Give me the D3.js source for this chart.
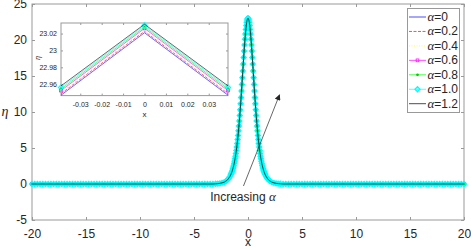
<!DOCTYPE html>
<html>
<head>
<meta charset="utf-8">
<script src="https://cdn.jsdelivr.net/npm/d3@7"></script>
<style>
body{margin:0;background:#fff;}
text{font-family:"Liberation Sans",Arial,sans-serif;fill:#262626;}
</style>
</head>
<body>
<svg id="vis"></svg>
<script>
//Series labels and styles (alpha values)
var alphaLabels = ["0","0.2","0.4","0.6","0.8","1.0","1.2"];
var lineColors = ["#0000ff","#ff0000","#ffff00","#ff00ff","#00ff00","#00ffff","#000000"];
var lineDash = [null,"3,1.5","1,1.5",null,null,null,null];
var markerTypes = ["none","none","none","square","dot","diamond","none"];

//Main profile (all series overlap at this scale)
var coreX = [-3,-2.8,-2.6,-2.4,-2.2,-2,-1.9,-1.8,-1.7,
    -1.6,-1.56,-1.52,-1.48,-1.44,-1.4,-1.36,-1.32,-1.28,-1.24,
    -1.2,-1.16,-1.12,-1.08,-1.04,-1,-0.96,-0.92,-0.88,-0.84,
    -0.8,-0.76,-0.72,-0.68,-0.64,-0.6,-0.56,-0.52,-0.48,-0.44,
    -0.4,-0.36,-0.32,-0.28,-0.24,-0.2,-0.16,-0.12,-0.08,-0.04,
    0,
    0.04,0.08,0.12,0.16,0.2,0.24,0.28,0.32,0.36,0.4,
    0.44,0.48,0.52,0.56,0.6,0.64,0.68,0.72,0.76,0.8,
    0.84,0.88,0.92,0.96,1,1.04,1.08,1.12,1.16,1.2,
    1.24,1.28,1.32,1.36,1.4,1.44,1.48,1.52,1.56,1.6,
    1.7,1.8,1.9,2,2.2,2.4,2.6,2.8,3];
var coreEta = [0.03,0.05,0.09,0.16,0.26,0.45,0.58,0.76,0.98,
    1.27,1.41,1.56,1.73,1.92,2.12,2.35,2.59,2.87,3.17,
    3.49,3.85,4.24,4.67,5.13,5.63,6.17,6.75,7.38,8.05,
    8.76,9.51,10.31,11.14,12.01,12.91,13.83,14.77,15.71,16.65,
    17.57,18.46,19.32,20.11,20.83,21.47,22.02,22.45,22.77,22.97,
    23.03,
    22.97,22.77,22.45,22.02,21.47,20.83,20.11,19.32,18.46,17.57,
    16.65,15.71,14.77,13.83,12.91,12.01,11.14,10.31,9.51,8.76,
    8.05,7.38,6.75,6.17,5.63,5.13,4.67,4.24,3.85,3.49,
    3.17,2.87,2.59,2.35,2.12,1.92,1.73,1.56,1.41,1.27,
    0.98,0.76,0.58,0.45,0.26,0.16,0.09,0.05,0.03];
//flat tails, eta = 0 there
var leftTailX = [-20,-19.75,-19.5,-19.25,-19,-18.75,-18.5,-18.25,-18,-17.75,-17.5,-17.25,-17,-16.75,-16.5,-16.25,
    -16,-15.75,-15.5,-15.25,-15,-14.75,-14.5,-14.25,-14,-13.75,-13.5,-13.25,-13,-12.75,-12.5,-12.25,
    -12,-11.75,-11.5,-11.25,-11,-10.75,-10.5,-10.25,-10,-9.75,-9.5,-9.25,-9,-8.75,-8.5,-8.25,
    -8,-7.75,-7.5,-7.25,-7,-6.75,-6.5,-6.25,-6,-5.75,-5.5,-5.25,-5,-4.75,-4.5,-4.25,-4,-3.75,-3.5,-3.25];
var rightTailX = [3.25,3.5,3.75,4,4.25,4.5,4.75,5,5.25,5.5,5.75,6,6.25,6.5,6.75,7,
    7.25,7.5,7.75,8,8.25,8.5,8.75,9,9.25,9.5,9.75,10,10.25,10.5,10.75,11,
    11.25,11.5,11.75,12,12.25,12.5,12.75,13,13.25,13.5,13.75,14,14.25,14.5,14.75,15,
    15.25,15.5,15.75,16,16.25,16.5,16.75,17,17.25,17.5,17.75,18,18.25,18.5,18.75,19,19.25,19.5,19.75,20];

//Inset (zoom near the peak)
var insetX = [-0.039, 0, 0.039];
var insetPeak = [23.021, 23.0227, 23.0244, 23.0261, 23.0278, 23.0295, 23.031];
var insetEdge = [22.947, 22.9488, 22.9507, 22.9525, 22.9543, 22.9562, 22.958];

//Ticks
var xTicks = [-20,-15,-10,-5,0,5,10,15,20];
var yTicks = [-5,0,5,10,15,20,25];
var insetXTicks = [-0.03,-0.02,-0.01,0,0.01,0.02,0.03];
var insetYTicks = [22.96,22.98,23,23.02];

//Annotation
var arrowFrom = [-0.42, -0.28];
var arrowTo = [2.92, 12.4];
var annotPos = [-3.5, -2.35];

var width = 471;
var height = 249;
var axisColor = "#999";

var svg = d3.select("#vis").attr("width", width).attr("height", height);

var x = d3.scaleLinear().domain([-20,20]).range([32,464]);
var y = d3.scaleLinear().domain([-5,25]).range([220,4]);

var profile = leftTailX.map(function(v){return [v,0];})
    .concat(coreX.map(function(v,i){return [v, coreEta[i]];}))
    .concat(rightTailX.map(function(v){return [v,0];}));

//main axes
drawAxes(svg, x, y, xTicks, yTicks, 3, 9, 5, 12);

//main curves
var mainLines = svg.append("g");
alphaLabels.forEach(function(a, i){
    drawSeries(mainLines, profile, i, x, y, 0.7);
});

//arrow and text
svg.append("defs").append("marker")
    .attr("id","head")
    .attr("viewBox","0 0 10 10")
    .attr("refX",9).attr("refY",5)
    .attr("markerWidth",7).attr("markerHeight",6)
    .attr("markerUnits","userSpaceOnUse")
    .attr("orient","auto")
    .append("path").attr("d","M0,0L10,5L0,10Z").attr("fill","#262626");

svg.append("line")
    .attr("x1", x(arrowFrom[0])).attr("y1", y(arrowFrom[1]))
    .attr("x2", x(arrowTo[0])).attr("y2", y(arrowTo[1]))
    .attr("stroke","#262626").attr("stroke-width",0.7)
    .attr("marker-end","url(#head)");

var annot = svg.append("text")
    .attr("x", x(annotPos[0])).attr("y", y(annotPos[1]))
    .style("font-size","12px");
annot.append("tspan").text("Increasing ");
annot.append("tspan").text("α").style("font-family","'Liberation Serif',serif").style("font-style","italic").style("font-size","13px");

//axis labels
svg.append("text").attr("x",248).attr("y",246).attr("text-anchor","middle").style("font-size","12px").text("x");
svg.append("text").attr("x",5).attr("y",116).attr("text-anchor","middle")
    .style("font-family","'Liberation Serif',serif").style("font-style","italic").style("font-size","14px").text("η");

//inset
var ix = d3.scaleLinear().domain([-0.039,0.039]).range([61,228]);
var iy = d3.scaleLinear().domain([22.9465,23.0325]).range([95.6,23]);
var inset = svg.append("g");
inset.append("rect").attr("x",61).attr("y",23).attr("width",167).attr("height",72.6).attr("fill","#fff");
drawAxes(inset, ix, iy, insetXTicks, insetYTicks, 2, 6, 4, 7);

alphaLabels.forEach(function(a, i){
    var pts = insetX.map(function(v, j){ return [v, j == 1 ? insetPeak[i] : insetEdge[i]]; });
    drawSeries(inset, pts, i, ix, iy, 0.6);
});
inset.append("text").attr("x",144.5).attr("y",117).attr("text-anchor","middle").style("font-size","8px").text("x");
inset.append("text").attr("transform","translate(40,58) rotate(-90)").attr("text-anchor","middle")
    .style("font-family","'Liberation Serif',serif").style("font-style","italic").style("font-size","8px").text("η");

//legend
var legend = svg.append("g");
legend.append("rect").attr("x",407.5).attr("y",8.5).attr("width",52).attr("height",104)
    .attr("fill","#fff").attr("stroke",axisColor).attr("stroke-width",1);
alphaLabels.forEach(function(a, i){
    var cy = 17 + i*14.45;
    legend.append("line").attr("x1",409).attr("x2",426).attr("y1",cy).attr("y2",cy)
        .attr("stroke",lineColors[i]).attr("stroke-width",0.7).attr("stroke-dasharray",lineDash[i]);
    drawMarkers(legend, [[417.5, cy]], markerTypes[i], lineColors[i]);
    var t = legend.append("text").attr("x",427.5).attr("y",cy+4).style("font-size","12px");
    t.append("tspan").text("α").style("font-family","'Liberation Serif',serif").style("font-style","italic").style("font-size","13px");
    t.append("tspan").text("=" + a);
});

function drawSeries(g, pts, i, sx, sy, w){
    var line = d3.line().x(function(d){return sx(d[0]);}).y(function(d){return sy(d[1]);});
    g.append("path")
        .attr("d", line(pts))
        .attr("fill","none")
        .attr("stroke", lineColors[i])
        .attr("stroke-width", w)
        .attr("stroke-dasharray", lineDash[i]);
    var px = pts.map(function(d){return [sx(d[0]), sy(d[1])];});
    drawMarkers(g, px, markerTypes[i], lineColors[i]);
}

function drawMarkers(g, px, type, color){
    if(type == "none") return;
    var sel = g.append("g").selectAll("path").data(px).enter();
    if(type == "square"){
        sel.append("rect")
            .attr("x", function(d){return d[0]-1.4;}).attr("y", function(d){return d[1]-1.4;})
            .attr("width",2.8).attr("height",2.8)
            .attr("fill","none").attr("stroke",color).attr("stroke-width",0.7);
    }
    else if(type == "dot"){
        sel.append("circle")
            .attr("cx", function(d){return d[0];}).attr("cy", function(d){return d[1];})
            .attr("r",1.4).attr("fill","#00d000");
    }
    else if(type == "diamond"){
        sel.append("path")
            .attr("d", function(d){ return "M"+d[0]+","+(d[1]-2.5)+"L"+(d[0]+2.5)+","+d[1]+"L"+d[0]+","+(d[1]+2.5)+"L"+(d[0]-2.5)+","+d[1]+"Z"; })
            .attr("fill","none").attr("stroke",color).attr("stroke-width",1.3);
    }
}

function drawAxes(g, sx, sy, xt, yt, tick, padX, padY, fs){
    var x0 = sx.range()[0], x1 = sx.range()[1];
    var y0 = sy.range()[0], y1 = sy.range()[1];
    var fmt = function(d){ return String(d); };
    var axes = [
        g.append("g").attr("transform","translate(0,"+y0+")").call(d3.axisBottom(sx).tickValues(xt).tickSize(-tick).tickSizeOuter(0).tickPadding(padX).tickFormat(fmt)),
        g.append("g").attr("transform","translate(0,"+y1+")").call(d3.axisTop(sx).tickValues(xt).tickSize(-tick).tickSizeOuter(0).tickFormat("")),
        g.append("g").attr("transform","translate("+x0+",0)").call(d3.axisLeft(sy).tickValues(yt).tickSize(-tick).tickSizeOuter(0).tickPadding(padY).tickFormat(fmt)),
        g.append("g").attr("transform","translate("+x1+",0)").call(d3.axisRight(sy).tickValues(yt).tickSize(-tick).tickSizeOuter(0).tickFormat(""))
    ];
    axes.forEach(function(a){
        a.attr("font-family",null).attr("font-size",null);
        a.select(".domain").remove();
        a.selectAll("line").attr("stroke",axisColor);
        a.selectAll("text").style("font-size", fs+"px").attr("fill","#262626");
    });
    g.append("rect").attr("x",x0).attr("y",y1).attr("width",x1-x0).attr("height",y0-y1)
        .attr("fill","none").attr("stroke",axisColor).attr("stroke-width",1);
}
</script>
</body>
</html>
